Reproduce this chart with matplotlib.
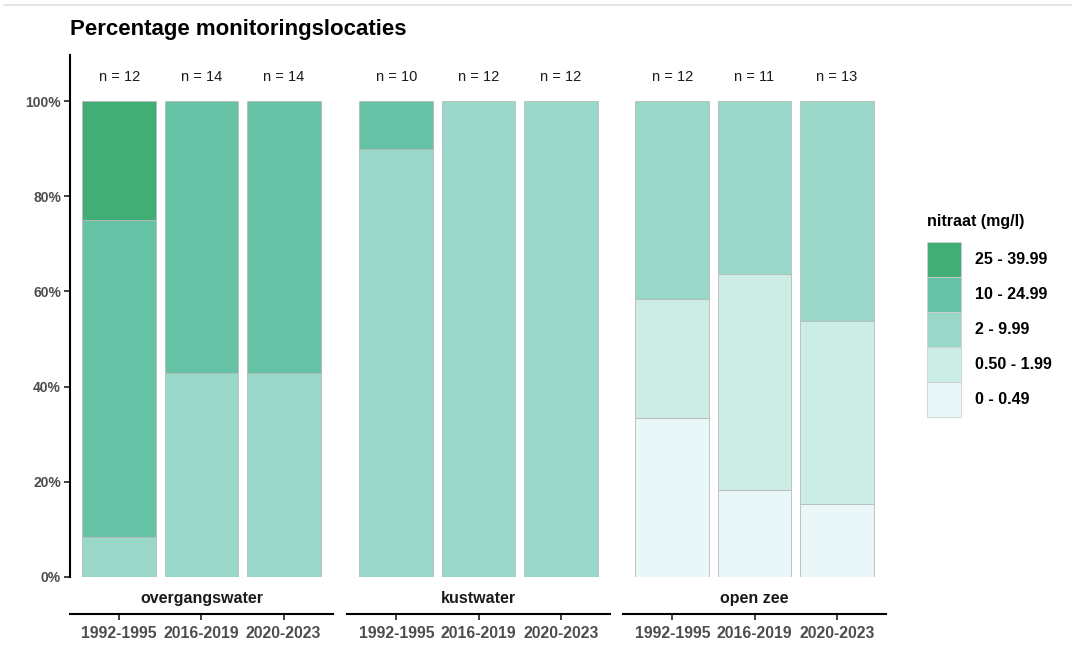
import matplotlib
matplotlib.use("Agg")
import matplotlib.pyplot as plt
from matplotlib.lines import Line2D
from matplotlib.patches import Patch
import numpy as np

plt.rcParams['font.family'] = ['Liberation Sans', 'DejaVu Sans']

# ---- data ----
title = "Percentage monitoringslocaties"
periods = ['1992-1995', '2016-2019', '2020-2023']
waters = ['overgangswater', 'kustwater', 'open zee']
classes = ['0 - 0.49', '0.50 - 1.99', '2 - 9.99', '10 - 24.99', '25 - 39.99']
class_colors = ['#eaf7f9', '#ccece6', '#99d8c9', '#66c2a4', '#41ae76']
legend_title = "nitraat (mg/l)"

# counts of monitoring locations per class (rows = classes, cols = periods)
counts_overgangswater = [[0, 0, 0], [0, 0, 0], [1, 6, 6], [8, 8, 8], [3, 0, 0]]
counts_kustwater = [[0, 0, 0], [0, 0, 0], [9, 12, 12], [1, 0, 0], [0, 0, 0]]
counts_open_zee = [[4, 2, 2], [3, 5, 5], [5, 4, 6], [0, 0, 0], [0, 0, 0]]
all_counts = [counts_overgangswater, counts_kustwater, counts_open_zee]

yticks = [0, 0.2, 0.4, 0.6, 0.8, 1.0]
ytick_labels = ['0%', '20%', '40%', '60%', '80%', '100%']

# ---- figure ----
W, H = 1072, 648
fig = plt.figure(figsize=(W / 100, H / 100), dpi=100)

def fx(px):
    return px / W

def fy(py):
    return 1 - py / H

panel_lefts = [70, 347, 623]
panel_w = 263
top_px, bot_px = 55, 577
grey = '#4d4d4d'

for i, (water, counts) in enumerate(zip(waters, all_counts)):
    ax = fig.add_axes([fx(panel_lefts[i]), fy(bot_px), panel_w / W, (bot_px - top_px) / H])
    ax.spines['top'].set_visible(False)
    ax.spines['right'].set_visible(False)
    ax.spines['bottom'].set_position(('outward', 26.6))
    ax.spines['bottom'].set_linewidth(1.5)
    c = np.array(counts, dtype=float)
    totals = c.sum(axis=0)
    frac = c / totals
    x = np.arange(1, len(periods) + 1)
    bottom = np.zeros(len(periods))
    for k, cls in enumerate(classes):
        for j in range(len(periods)):
            if frac[k, j] > 0:
                ax.bar(x[j], frac[k, j], bottom=bottom[j], width=0.9,
                       color=class_colors[k], edgecolor='#bababa', linewidth=0.6)
        bottom += frac[k]
    for j in range(len(periods)):
        ax.text(x[j], 1.05, f"n = {int(totals[j])}", ha='center', va='center',
                fontsize=10.5, color='#1a1a1a')
    ax.set_xlim(0.4, 3.6)
    ax.set_ylim(0, 1.097)
    ax.set_xticks(x)
    ax.set_xticklabels(periods, fontsize=11.3, fontweight='bold', color=grey)
    ax.tick_params(axis='x', length=4, width=1.3, pad=4.5, color='#333333')
    if i == 0:
        ax.spines['left'].set_linewidth(1.5)
        ax.set_yticks(yticks)
        ax.set_yticklabels(ytick_labels, fontsize=10, fontweight='bold', color=grey)
        ax.tick_params(axis='y', length=4, width=1.3, pad=2.5, color='#333333')
    else:
        ax.spines['left'].set_visible(False)
        ax.set_yticks([])
    ax.annotate(water, xy=(0.5, 0), xycoords='axes fraction', xytext=(0, -15.2),
                textcoords='offset points', ha='center', va='center',
                fontsize=11.5, fontweight='bold', color='#1a1a1a')

# title
fig.text(fx(70), fy(29), title, ha='left', va='center', fontsize=16, fontweight='bold',
         color='black')

# top separator line
fig.add_artist(Line2D([fx(4), 1.0], [fy(5), fy(5)], color='#e0e0e0', lw=1.2))

# legend
fig.text(fx(927), fy(221), legend_title, ha='left', va='center', fontsize=11.5,
         fontweight='bold', color='black')
handles = [Patch(facecolor=class_colors[k], edgecolor='#cfcfcf', linewidth=0.6)
           for k in range(len(classes))][::-1]
labels = classes[::-1]
fs = 11.5
fs_px = fs * 100 / 72
box_h_pt = 35 * 72 / 100
hh = (box_h_pt / fs - 0.245) / 0.65
leg = fig.legend(handles, labels, loc='upper left', bbox_to_anchor=(fx(927), fy(242)),
                 frameon=False, borderpad=0, borderaxespad=0, labelspacing=0,
                 handlelength=34 / fs_px, handleheight=hh,
                 handletextpad=14 / fs_px, prop={'weight': 'bold', 'size': fs})

fig.savefig('out.png', dpi=100, facecolor='white')
